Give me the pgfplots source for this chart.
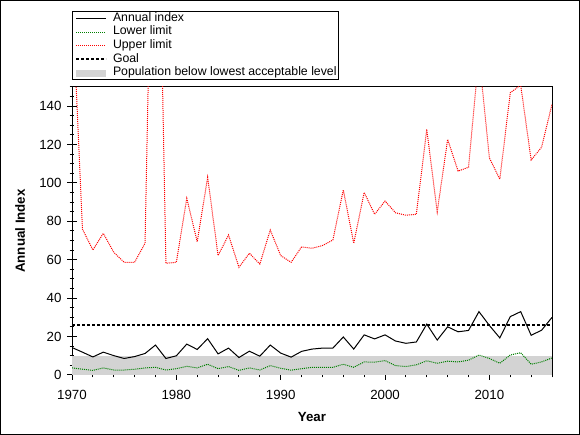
\documentclass[border=0pt]{standalone}
\usepackage{pgfplots}
\usepackage{pgfplotstable}
\pgfplotsset{compat=1.18}
\usepackage{fontspec}
\setmainfont{Liberation Sans}
\definecolor{areagray}{RGB}{211,211,211}
\definecolor{dgreen}{RGB}{0,128,0}
\definecolor{lred}{RGB}{255,0,0}
\pgfplotstableread{
year index lower upper
1970 14.3 3.7 200
1971 11.9 3.0 76
1972 9.4 2.4 65.1
1973 11.9 3.7 73.8
1974 10.1 2.6 63.9
1975 8.6 2.6 58.7
1976 9.6 3.0 58.7
1977 11.2 3.7 68.6
1978 15.6 4.0 345
1979 8.6 2.6 58.2
1980 10.0 3.3 58.7
1981 16.1 4.5 92
1982 13.3 3.7 69.4
1983 18.9 5.6 103
1984 11.0 3.3 62.2
1985 14.0 4.4 72.9
1986 9.1 2.4 56.1
1987 12.4 3.7 63.4
1988 9.8 2.6 57.8
1989 15.6 4.9 75.5
1990 11.4 3.5 62.2
1991 9.3 2.5 58.7
1992 12.3 3.3 66.7
1993 13.5 4.0 66.0
1994 14.0 4.0 67.4
1995 14.0 4.0 70.3
1996 19.8 5.6 96.4
1997 13.5 4.0 68.6
1998 20.9 6.8 95.1
1999 18.8 6.7 83.7
2000 20.9 7.5 90.6
2001 17.7 4.9 84.5
2002 16.5 4.4 83.2
2003 17.2 5.3 83.7
2004 26.5 7.4 128
2005 18.2 6.1 85
2006 25.1 7.2 122.7
2007 22.5 6.8 106.2
2008 23.2 7.7 108.2
2009 33.0 10.4 167
2010 25.8 8.6 113
2011 19.3 6.1 102
2012 30.4 10.4 147
2013 33.0 11.6 151
2014 20.7 5.6 112
2015 23.3 6.8 118.6
2016 30.0 8.9 141
}\datatable
\begin{document}
\begin{tikzpicture}
\path[use as bounding box] (0,0) rectangle (580pt,435pt);
\fill[white] (0,0) rectangle (580pt,435pt);
\draw[line width=1pt] (0.5pt,0.5pt) rectangle (579.5pt,434.5pt);
\begin{axis}[
  scale only axis, width=480pt, height=288pt,
  at={(72pt,60pt)}, anchor=south west,
  xmin=1970, xmax=2016, ymin=0, ymax=150,
  axis line style={line width=1pt},
  xtick={1970,1980,...,2010}, minor xtick={1972,1974,...,2016},
  ytick={0,20,...,140}, minor ytick={5,10,...,150},
  tick align=center, major tick length=10pt, minor tick length=5pt,
  every tick/.style={black, line width=1pt},
  xtick pos=bottom, ytick pos=left,
  /pgf/number format/.cd, 1000 sep={}, assume math mode=true, /pgfplots/.cd,
  tick label style={font=\fontsize{13.3}{15}\selectfont},
  xticklabel style={yshift=-7pt},
  yticklabel style={xshift=-2pt},
  xlabel={Year}, ylabel={Annual Index},
  every axis x label/.style={at={(axis description cs:0.5,-0.1458)}, anchor=center, font=\fontsize{13.3}{15}\selectfont\bfseries},
  every axis y label/.style={at={(axis description cs:-0.1083,0.5)}, rotate=90, anchor=center, font=\fontsize{13.3}{15}\selectfont\bfseries},
  legend image code/.code={\draw[#1] (0pt,0pt) -- (30pt,0pt);},
  legend cell align=left,
  legend style={at={(rel axis cs:0,1)}, anchor=south west, yshift=7pt,
    draw=black, line width=1pt, inner sep=0pt,
    font=\fontsize{12.3}{14}\selectfont,
    nodes={inner xsep=1.5pt, inner ysep=0.6pt, text height=8.5pt, text depth=3pt},
    row sep=1pt,
    /tikz/every odd column/.append style={column sep=2pt}},
]
\addlegendimage{black, line width=1pt}
\addlegendentry{Annual index}
\addlegendimage{dgreen, line width=1pt, dash pattern=on 1pt off 1pt}
\addlegendentry{Lower limit}
\addlegendimage{lred, line width=1pt, dash pattern=on 1pt off 1pt}
\addlegendentry{Upper limit}
\addlegendimage{black, line width=2pt, dash pattern=on 3pt off 2pt}
\addlegendentry{Goal}
\addlegendimage{areagray, line width=7pt}
\addlegendentry{Population below lowest acceptable level\hspace{4pt}}

\addplot[fill=areagray, draw=none, forget plot] coordinates {(1970,10) (2016,10)} \closedcycle;
\addplot[black, line width=2pt, dash pattern=on 3pt off 2pt, forget plot] coordinates {(1970,26) (2016,26)};
\addplot[dgreen, line width=1pt, dash pattern=on 1pt off 1pt, forget plot] table[x=year, y=lower] {\datatable};
\addplot[lred, line width=1pt, dash pattern=on 1pt off 1pt, forget plot] table[x=year, y=upper] {\datatable};
\addplot[black, line width=1pt, forget plot] table[x=year, y=index] {\datatable};
\end{axis}
\end{tikzpicture}
\end{document}
